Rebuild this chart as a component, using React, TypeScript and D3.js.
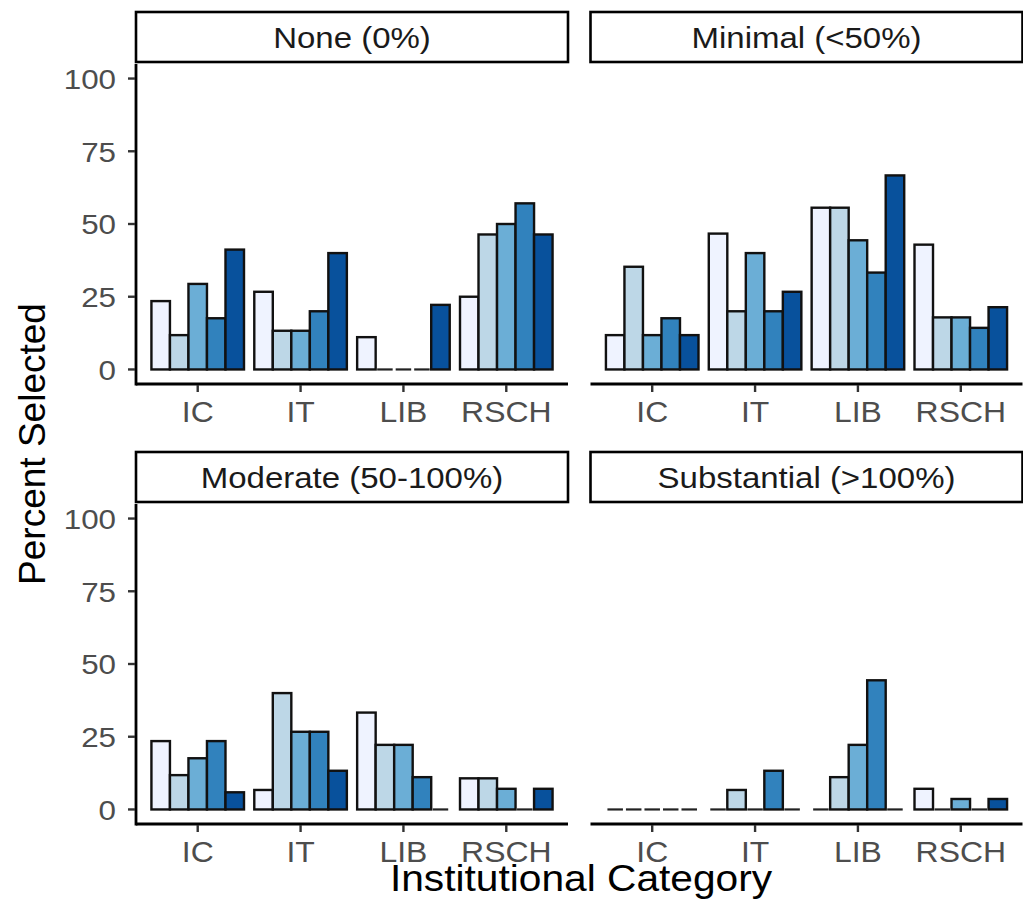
import React, { useEffect, useRef } from 'react';
import * as d3 from 'd3';

const categories = ['IC', 'IT', 'LIB', 'RSCH'];
const levels = ['Level 1', 'Level 2', 'Level 3', 'Level 4', 'Level 5'];
const levelColors = ['#EFF3FF', '#BDD7E7', '#6BAED6', '#3182BD', '#08519C'];
const facetLabels = ['None (0%)', 'Minimal (<50%)', 'Moderate (50-100%)', 'Substantial (>100%)'];
const yTicks = [0, 25, 50, 75, 100];

// rows = categories, columns = levels
const noneValues = [
  [23.5, 11.8, 29.4, 17.6, 41.2],
  [26.7, 13.3, 13.3, 20.0, 40.0],
  [11.1, 0, 0, 0, 22.2],
  [25.0, 46.4, 50.0, 57.1, 46.4],
];
const minimalValues = [
  [11.8, 35.3, 11.8, 17.6, 11.8],
  [46.7, 20.0, 40.0, 20.0, 26.7],
  [55.6, 55.6, 44.4, 33.3, 66.7],
  [42.9, 17.9, 17.9, 14.3, 21.4],
];
const moderateValues = [
  [23.5, 11.8, 17.6, 23.5, 5.9],
  [6.7, 40.0, 26.7, 26.7, 13.3],
  [33.3, 22.2, 22.2, 11.1, 0],
  [10.7, 10.7, 7.1, 0, 7.1],
];
const substantialValues = [
  [0, 0, 0, 0, 0],
  [0, 6.7, 0, 13.3, 0],
  [0, 11.1, 22.2, 44.4, 0],
  [7.1, 0, 3.6, 0, 3.6],
];

const facetValues = [noneValues, minimalValues, moderateValues, substantialValues];

const FONT = '"Liberation Sans", Arial, Helvetica, sans-serif';
const SX = 1.1; // horizontal stretch seen in the reference text

export default function App() {
  const svgRef = useRef<SVGSVGElement>(null);

  useEffect(() => {
    if (!svgRef.current) return;
    const svg = d3.select(svgRef.current);
    svg.selectAll('*').remove();

    const panelW = 432;
    const panelH = 320;
    const colX = [136, 590.5];
    const rowY = [64, 504];

    const x = d3.scaleBand<string>()
      .domain(categories)
      .range([0, panelW])
      .paddingInner(0.1)
      .paddingOuter(0.15);
    const xInner = d3.scaleBand<string>()
      .domain(levels)
      .range([0, x.bandwidth()]);
    const y = d3.scaleLinear().domain([-5, 105]).range([panelH, 0]);

    const hText = (g: any, tx: number, ty: number, str: string) =>
      g.append('text')
        .attr('transform', `translate(${tx},${ty}) scale(${SX},1)`)
        .style('font-family', FONT)
        .text(str);

    facetLabels.forEach((label, fi) => {
      const col = fi % 2;
      const row = Math.floor(fi / 2);
      const g = svg.append('g')
        .attr('transform', `translate(${colX[col]},${rowY[row]})`);

      // strip
      g.append('rect')
        .attr('x', 0)
        .attr('y', -52)
        .attr('width', panelW)
        .attr('height', 50)
        .attr('fill', 'white')
        .attr('stroke', 'black')
        .attr('stroke-width', 2.6);
      hText(g, panelW / 2, -27, label)
        .attr('text-anchor', 'middle')
        .attr('dy', '0.36em')
        .style('font-size', '30px')
        .attr('fill', '#1A1A1A');

      // bars
      const values = facetValues[fi];
      categories.forEach((cat, ci) => {
        levels.forEach((lev, li) => {
          const v = values[ci][li];
          const bx = x(cat)! + xInner(lev)!;
          const bw = xInner.bandwidth();
          if (v > 0) {
            g.append('rect')
              .attr('x', bx)
              .attr('y', y(v))
              .attr('width', bw)
              .attr('height', y(0) - y(v))
              .attr('fill', levelColors[li])
              .attr('stroke', '#111')
              .attr('stroke-width', 2.4);
          } else {
            g.append('line')
              .attr('x1', bx + 1.5)
              .attr('x2', bx + bw - 1.5)
              .attr('y1', y(0))
              .attr('y2', y(0))
              .attr('stroke', '#222')
              .attr('stroke-width', 2.2);
          }
        });
      });

      // x axis
      g.append('line')
        .attr('x1', 0).attr('x2', panelW)
        .attr('y1', panelH).attr('y2', panelH)
        .attr('stroke', 'black')
        .attr('stroke-width', 2.8);
      categories.forEach(cat => {
        const cx = x(cat)! + x.bandwidth() / 2;
        g.append('line')
          .attr('x1', cx).attr('x2', cx)
          .attr('y1', panelH + 1).attr('y2', panelH + 8)
          .attr('stroke', '#333')
          .attr('stroke-width', 2.4);
        hText(g, cx, panelH + 38, cat)
          .attr('text-anchor', 'middle')
          .style('font-size', '29px')
          .attr('fill', '#4D4D4D');
      });

      // y axis on left column only
      if (col === 0) {
        g.append('line')
          .attr('x1', 0).attr('x2', 0)
          .attr('y1', 0).attr('y2', panelH + 1.4)
          .attr('stroke', 'black')
          .attr('stroke-width', 2.8);
        yTicks.forEach(t => {
          g.append('line')
            .attr('x1', -8).attr('x2', -1)
            .attr('y1', y(t)).attr('y2', y(t))
            .attr('stroke', '#333')
            .attr('stroke-width', 2.4);
          hText(g, -20, y(t), String(t))
            .attr('text-anchor', 'end')
            .attr('dy', '0.36em')
            .style('font-size', '28.5px')
            .attr('fill', '#4D4D4D');
        });
      }
    });

    // axis titles
    hText(svg, 581, 891, 'Institutional Category')
      .attr('text-anchor', 'middle')
      .style('font-size', '37px')
      .attr('fill', 'black');

    svg.append('text')
      .attr('transform', 'translate(45,444) rotate(-90)')
      .attr('text-anchor', 'middle')
      .style('font-family', FONT)
      .style('font-size', '37px')
      .attr('fill', 'black')
      .text('Percent Selected');
  }, []);

  return (
    <svg
      ref={svgRef}
      width={1023}
      height={915}
      style={{ position: 'absolute', left: 0, top: 0, background: 'white' }}
    />
  );
}
